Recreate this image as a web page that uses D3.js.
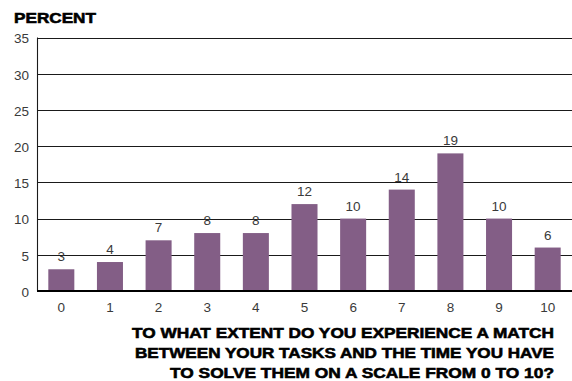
<!DOCTYPE html>
<html>
<head>
<meta charset="utf-8">
<script src="https://cdn.jsdelivr.net/npm/d3@7"></script>
<style>
  html, body { margin: 0; padding: 0; background: #fff; }
  svg { display: block; }
</style>
</head>
<body>
<svg id="chart" width="572" height="381"></svg>
<script>
// Survey scale 0..10 and share of respondents (percent)
const categories = ["0", "1", "2", "3", "4", "5", "6", "7", "8", "9", "10"];
const percentValues = [3, 4, 7, 8, 8, 12, 10, 14, 19, 10, 6];
const yTicks = [0, 5, 10, 15, 20, 25, 30, 35];
const yTitle = "PERCENT";
const xTitleLines = [
  "TO WHAT EXTENT DO YOU EXPERIENCE A MATCH",
  "BETWEEN YOUR TASKS AND THE TIME YOU HAVE",
  "TO SOLVE THEM ON A SCALE FROM 0 TO 10?"
];

const svg = d3.select("#chart");
const plot = { left: 37, right: 572, top: 37.5, bottom: 291 };
const font = "'Liberation Sans', Arial, Helvetica, sans-serif";

const x = d3.scaleBand()
  .domain(categories)
  .range([plot.left, plot.right])
  .paddingInner(0.465)
  .paddingOuter(0.2325);

const y = d3.scaleLinear()
  .domain([0, 35])
  .range([plot.bottom, plot.top]);

// Horizontal gridlines
svg.append("g")
  .selectAll("line")
  .data(yTicks.filter(t => t > 0))
  .join("line")
  .attr("x1", plot.left)
  .attr("x2", plot.right)
  .attr("y1", d => Math.round(y(d)) + 0.5)
  .attr("y2", d => Math.round(y(d)) + 0.5)
  .attr("stroke", "#1a1a1a")
  .attr("stroke-width", 1.1);

// Left axis line
svg.append("line")
  .attr("x1", plot.left + 0.5).attr("x2", plot.left + 0.5)
  .attr("y1", y(35)).attr("y2", plot.bottom)
  .attr("stroke", "#1a1a1a").attr("stroke-width", 1.1);

// Y tick labels
const yAxis = d3.axisLeft(y).tickValues(yTicks).tickSize(0).tickPadding(8);
const gy = svg.append("g").attr("transform", `translate(${plot.left},0)`).call(yAxis);
gy.select(".domain").remove();
gy.selectAll("text")
  .attr("font-family", font)
  .attr("font-size", 13.5)
  .attr("fill", "#3a3a3a")
  .attr("dy", "0.95em")
  .attr("transform", "translate(0,-7.5)");

// Bars
svg.append("g")
  .selectAll("rect")
  .data(percentValues)
  .join("rect")
  .attr("x", (d, i) => x(categories[i]))
  .attr("width", x.bandwidth())
  .attr("y", d => y(d))
  .attr("height", d => y(0) - y(d))
  .attr("fill", "#835e86");

// Value labels
svg.append("g")
  .selectAll("text")
  .data(percentValues)
  .join("text")
  .attr("x", (d, i) => x(categories[i]) + x.bandwidth() / 2)
  .attr("y", d => y(d) - 8)
  .attr("text-anchor", "middle")
  .attr("font-family", font)
  .attr("font-size", 13.5)
  .attr("fill", "#3a3a3a")
  .text(d => d);

// Baseline
svg.append("line")
  .attr("x1", plot.left).attr("x2", plot.right)
  .attr("y1", plot.bottom).attr("y2", plot.bottom)
  .attr("stroke", "#000").attr("stroke-width", 2.2);

// X tick labels
const xAxis = d3.axisBottom(x).tickSize(0).tickPadding(0);
const gx = svg.append("g").attr("transform", `translate(0,${plot.bottom})`).call(xAxis);
gx.select(".domain").remove();
gx.selectAll("text")
  .attr("font-family", font)
  .attr("font-size", 13.5)
  .attr("fill", "#3a3a3a")
  .attr("dy", null)
  .attr("y", 21);

// Axis titles (heavy wide caps)
svg.append("text")
  .attr("x", 14).attr("y", 23)
  .attr("font-family", font)
  .attr("font-size", 15.5)
  .attr("font-weight", "bold")
  .attr("fill", "#000")
  .attr("stroke", "#000").attr("stroke-width", 0.6)
  .attr("textLength", 82)
  .attr("lengthAdjust", "spacingAndGlyphs")
  .text(yTitle);

const xTitleWidths = [422, 419, 384];
svg.append("g")
  .selectAll("text")
  .data(xTitleLines)
  .join("text")
  .attr("x", (d, i) => 554 - xTitleWidths[i])
  .attr("y", (d, i) => 338 + i * 20)
  .attr("font-family", font)
  .attr("font-size", 15.5)
  .attr("font-weight", "bold")
  .attr("fill", "#000")
  .attr("stroke", "#000").attr("stroke-width", 0.6)
  .attr("textLength", (d, i) => xTitleWidths[i])
  .attr("lengthAdjust", "spacingAndGlyphs")
  .text(d => d);
</script>
</body>
</html>
